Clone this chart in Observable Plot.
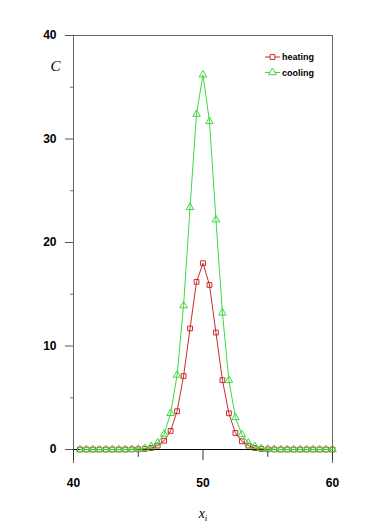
<!DOCTYPE html>
<html>
<head>
<meta charset="utf-8">
<script src="https://cdn.jsdelivr.net/npm/d3@7"></script>
<script src="https://cdn.jsdelivr.net/npm/@observablehq/plot@0.6"></script>
<style>
  body { margin: 0; background: #fff; }
  #chart { position: relative; width: 373px; height: 526px; }
</style>
</head>
<body>
<div id="chart"></div>
<script>
const xs = [40.5,41,41.5,42,42.5,43,43.5,44,44.5,45,45.5,46,46.5,47,47.5,48,48.5,49,49.5,50,
            50.5,51,51.5,52,52.5,53,53.5,54,54.5,55,55.5,56,56.5,57,57.5,58,58.5,59,59.5,60];
const heating = [0,0,0,0,0,0,0,0,0.01,0.02,0.06,0.15,0.38,0.85,1.8,3.7,7.1,11.7,16.2,18.0,
                 15.9,11.3,6.7,3.5,1.6,0.8,0.38,0.15,0.06,0.02,0.01,0,0,0,0,0,0,0,0,0];
const cooling = [0,0,0,0,0,0,0,0,0.02,0.05,0.12,0.3,0.65,1.5,3.5,7.2,13.9,23.4,32.4,36.2,
                 31.7,22.2,13.2,6.7,3.1,1.45,0.65,0.3,0.12,0.05,0.02,0,0,0,0,0,0,0,0,0];
const yMajor = [0,10,20,30,40];
const yMinor = [5,15,25,35];
const xMajor = [40,50,60];
const xMinor = [45,55];
const seriesNames = ["heating","cooling"];

const red = "#cc2a2a", green = "#3fd83f";
const hData = xs.map((x,i)=>({x, y: heating[i]}));
const cData = xs.map((x,i)=>({x, y: cooling[i]}));

const plot = Plot.plot({
  width: 373, height: 526,
  marginLeft: 73, marginRight: 41, marginTop: 35, marginBottom: 63,
  x: {domain: [40, 60], axis: null},
  y: {domain: [-1.35, 40], axis: null},
  style: {fontFamily: "Liberation Sans, Arial, sans-serif", background: "#fff"},
  marks: [
    Plot.ruleX([40, 60], {y1: -1.35, y2: 40, stroke: "#666", strokeWidth: 1}),
    Plot.ruleY([40], {x1: 40, x2: 60, stroke: "#666", strokeWidth: 1}),
    Plot.ruleY([0], {x1: 40, x2: 60, stroke: "#000", strokeWidth: 1}),
    Plot.axisY({ticks: yMajor, tickSize: 8, tickPadding: 9, fontSize: 12, fontWeight: "bold", label: null, stroke: "#555", color: "#000"}),
    Plot.axisY({ticks: yMinor, tickSize: 3, tickFormat: () => "", label: null, stroke: "#777"}),
    Plot.ruleX(xMajor, {y1: 0, y2: -1.06, stroke: "#333"}),
    Plot.ruleX(xMinor, {y1: 0, y2: -0.75, stroke: "#333"}),
    Plot.text(xMajor, {x: d => d, y: -1.35, dy: 20, text: d => String(d), fontSize: 12, fontWeight: "bold", fill: "#000"}),
    Plot.line(hData, {x: "x", y: "y", stroke: red, strokeWidth: 1}),
    Plot.dot(hData, {x: "x", y: "y", symbol: "square", r: 2.7, stroke: red, fill: "none", strokeWidth: 1}),
    Plot.line(cData, {x: "x", y: "y", stroke: green, strokeWidth: 1}),
    Plot.dot(cData, {x: "x", y: "y", symbol: "triangle", r: 2.8, stroke: green, fill: "none", strokeWidth: 1}),
    Plot.text(["C"], {frameAnchor: "top-left", dx: -23, dy: 25, text: d => d, fontFamily: "Liberation Serif, serif", fontStyle: "italic", fontSize: 15, fill: "#000"})
  ]
});

const svg = d3.select(plot);
// x axis title x_i
const t = svg.append("text")
  .attr("x", 203).attr("y", 518)
  .attr("text-anchor", "middle")
  .attr("font-family", "Liberation Serif, serif")
  .attr("font-style", "italic")
  .attr("font-size", 14)
  .attr("fill", "#000");
t.append("tspan").text("x");
t.append("tspan").attr("font-size", 9).attr("dy", 3).text("i");

// legend
const lg = svg.append("g")
  .attr("font-family", "Liberation Sans, Arial, sans-serif")
  .attr("font-size", 9).attr("font-weight", "bold")
  .attr("text-anchor", "start");
const sym = [d3.symbolSquare, d3.symbolTriangle];
const cols = [red, green];
seriesNames.forEach((name, i) => {
  const y = 57 + i * 15.5;
  lg.append("line").attr("x1", 265).attr("x2", 280).attr("y1", y).attr("y2", y)
    .attr("stroke", cols[i]).attr("stroke-width", 1);
  lg.append("path").attr("d", d3.symbol(sym[i], i === 0 ? 23 : 26)()).attr("transform", `translate(272.5,${y})`)
    .attr("fill", "#fff").attr("stroke", cols[i]);
  lg.append("text").attr("x", 282).attr("y", y).attr("dy", "0.35em")
    .attr("text-anchor", "start").attr("fill", "#000").text(name);
});

document.getElementById("chart").appendChild(plot);
</script>
</body>
</html>
